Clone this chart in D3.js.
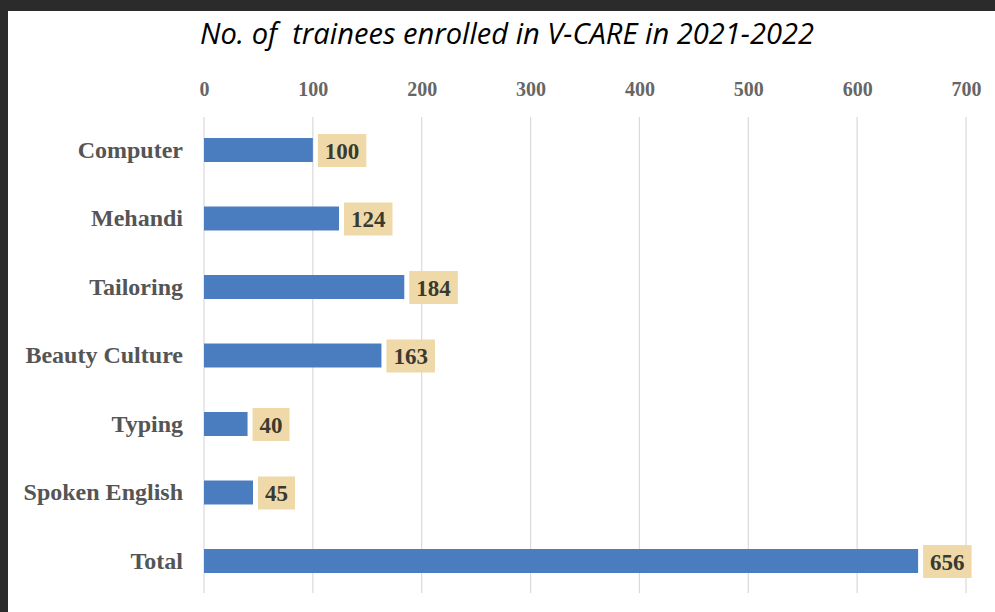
<!DOCTYPE html>
<html>
<head>
<meta charset="utf-8">
<script src="https://cdn.jsdelivr.net/npm/d3@7"></script>
<style>
  html, body { margin: 0; padding: 0; background: #2b2b2b; }
  svg { display: block; }
</style>
</head>
<body>
<svg id="chart" width="995" height="612"></svg>
<script>
const titleText = "No. of  trainees enrolled in V-CARE in 2021-2022";
const categories = ["Computer", "Mehandi", "Tailoring", "Beauty Culture", "Typing", "Spoken English", "Total"];
const values = [100, 124, 184, 163, 40, 45, 656];
const tickValues = [0, 100, 200, 300, 400, 500, 600, 700];

const svg = d3.select("#chart");

// background panel
svg.append("rect").attr("x", 0).attr("y", 0).attr("width", 995).attr("height", 612).attr("fill", "#2b2b2b");
svg.append("rect").attr("x", 8).attr("y", 11).attr("width", 987).attr("height", 601).attr("fill", "#ffffff");

const x = d3.scaleLinear().domain([0, 700]).range([204, 966]);
const y = d3.scaleBand().domain(categories).range([115.75, 595.25]).paddingInner(0.65).paddingOuter(0.325);

// title
svg.append("text")
  .attr("x", 507).attr("y", 44)
  .attr("text-anchor", "middle")
  .attr("textLength", 614)
  .attr("lengthAdjust", "spacingAndGlyphs")
  .style("white-space", "pre")
  .attr("font-family", "'Open Sans', sans-serif")
  .attr("font-style", "italic")
  .attr("font-size", 29)
  .attr("fill", "#000")
  .text(titleText);

// gridlines
svg.append("g").selectAll("line").data(tickValues).join("line")
  .attr("x1", d => x(d)).attr("x2", d => x(d))
  .attr("y1", 117).attr("y2", 593)
  .attr("stroke", "#d9d9d9").attr("stroke-width", 1.2);

// top axis labels
const xAxis = d3.axisTop(x).tickValues(tickValues).tickSize(0).tickPadding(0);
const gx = svg.append("g").attr("transform", "translate(0,96)").call(xAxis);
gx.select(".domain").remove();
gx.selectAll("text")
  .attr("font-family", "'Liberation Serif', 'Times New Roman', serif")
  .attr("font-weight", "bold")
  .attr("font-size", 20)
  .attr("fill", "#666");

// category axis
const yAxis = d3.axisLeft(y).tickSize(0).tickPadding(0);
const gy = svg.append("g").attr("transform", "translate(183,0)").call(yAxis);
gy.select(".domain").remove();
gy.selectAll("text")
  .attr("font-family", "'Liberation Serif', 'Times New Roman', serif")
  .attr("font-weight", "bold")
  .attr("font-size", 24)
  .attr("fill", "#555");

// bars
svg.append("g").selectAll("rect").data(categories).join("rect")
  .attr("x", x(0))
  .attr("y", d => y(d))
  .attr("width", (d, i) => x(values[i]) - x(0))
  .attr("height", y.bandwidth())
  .attr("fill", "#4a7cc0");

// data labels with boxes
const lbl = svg.append("g").selectAll("g").data(categories).join("g");
lbl.each(function(d, i) {
  const g = d3.select(this);
  const cy = y(d) + y.bandwidth() / 2;
  const rect = g.append("rect").attr("fill", "#f0d9a8");
  const t = g.append("text")
    .attr("font-family", "'Liberation Serif', 'Times New Roman', serif")
    .attr("font-weight", "bold")
    .attr("font-size", 23)
    .attr("fill", "#3a3a30")
    .attr("dominant-baseline", "central")
    .text(values[i]);
  const w = t.node().getComputedTextLength();
  const bx = x(values[i]) + 5;
  const pad = 7;
  rect.attr("x", bx).attr("y", cy - 16).attr("width", w + 2 * pad).attr("height", 33);
  t.attr("x", bx + pad).attr("y", cy + 1);
});
</script>
</body>
</html>
